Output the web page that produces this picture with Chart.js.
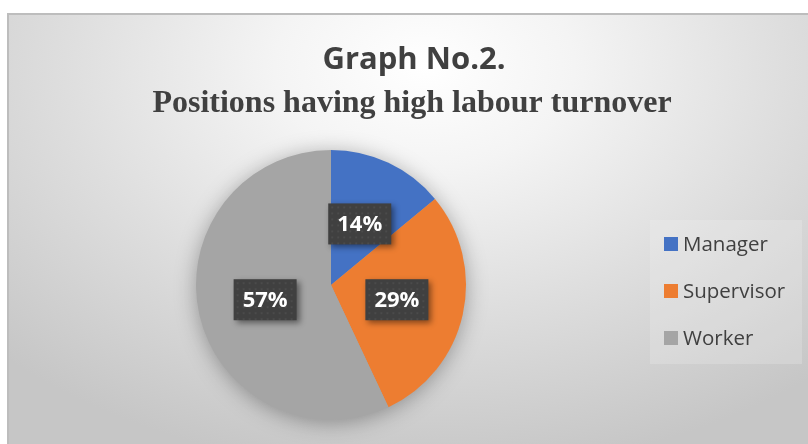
<!DOCTYPE html>
<html>
<head>
<meta charset="utf-8">
<script src="https://cdn.jsdelivr.net/npm/chart.js@4/dist/chart.umd.min.js"></script>
<style>
  html,body{margin:0;padding:0;background:#fff;width:808px;height:444px;overflow:hidden;}
  #panel{position:absolute;left:7px;top:13px;width:801px;height:431px;
    border-top:2px solid #bdbdbd;border-left:2px solid #bdbdbd;box-sizing:border-box;
    background:radial-gradient(ellipse 75% 95% at 52% 12%, #ffffff 0%, #f4f4f4 25%, #dedede 60%, #c6c6c6 100%);}
  canvas{position:absolute;left:0;top:0;}
</style>
</head>
<body>
<div id="panel"><canvas id="c" width="799" height="429"></canvas></div>
<script>
const categories = ["Manager", "Supervisor", "Worker"];
const values = [14, 29, 57];
const percentLabels = ["14%", "29%", "57%"];
const colors = ["#4472C4", "#ED7D31", "#A5A5A5"];
const titleText = "Graph No.2.";
const subtitleText = "Positions having high labour turnover";

const decor = {
  id: 'decor',
  beforeDatasetsDraw(chart) {
    const ctx = chart.ctx;
    const arc = chart.getDatasetMeta(0).data[0];
    ctx.save();
    ctx.shadowColor = 'rgba(0,0,0,0.35)';
    ctx.shadowBlur = 22;
    ctx.shadowOffsetY = 3;
    ctx.fillStyle = '#A5A5A5';
    ctx.beginPath();
    ctx.arc(arc.x, arc.y, arc.outerRadius - 1, 0, Math.PI * 2);
    ctx.fill();
    ctx.restore();
  },
  afterDraw(chart) {
    const ctx = chart.ctx;
    ctx.save();
    ctx.textAlign = 'center';
    ctx.textBaseline = 'middle';
    ctx.fillStyle = '#404040';
    ctx.font = 'bold 31px "Open Sans"';
    ctx.fillText(titleText, 405, 45);
    ctx.font = 'bold 32px "Liberation Serif"';
    ctx.fillText(subtitleText, 403, 89);

    const meta = chart.getDatasetMeta(0);
    meta.data.forEach((el, i) => {
      const p = el.tooltipPosition();
      const w = 63, h = 41;
      const x = p.x - w / 2, y = p.y - h / 2;
      ctx.save();
      ctx.shadowColor = 'rgba(0,0,0,0.45)';
      ctx.shadowBlur = 6;
      ctx.shadowOffsetX = 3;
      ctx.shadowOffsetY = 3;
      ctx.fillStyle = '#404040';
      ctx.fillRect(x, y, w, h);
      ctx.restore();
      ctx.fillStyle = 'rgba(255,255,255,0.06)';
      for (let yy = y + 3; yy < y + h; yy += 6) {
        for (let xx = x + 3; xx < x + w; xx += 6) {
          ctx.fillRect(xx, yy, 2, 2);
        }
      }
      ctx.fillStyle = '#ffffff';
      ctx.font = 'bold 22px "Open Sans"';
      ctx.fillText(percentLabels[i], p.x, p.y + 1);
    });

    const lx = 641, ly = 205, lw = 152, lh = 144;
    ctx.fillStyle = 'rgba(245,245,245,0.22)';
    ctx.fillRect(lx, ly, lw, lh);
    ctx.textAlign = 'left';
    ctx.font = '20.5px "Open Sans"';
    categories.forEach((name, i) => {
      const cy = 229 + i * 47;
      ctx.fillStyle = colors[i];
      ctx.fillRect(655, cy - 7, 14, 14);
      ctx.fillStyle = '#404040';
      ctx.fillText(name, 674, cy + 1);
    });
    ctx.restore();
  }
};

new Chart(document.getElementById('c'), {
  type: 'pie',
  data: {
    labels: categories,
    datasets: [{ data: values, backgroundColor: colors, borderWidth: 0 }]
  },
  options: {
    responsive: false,
    animation: false,
    layout: { padding: { left: 187, right: 342, top: 135, bottom: 24 } },
    plugins: { legend: { display: false }, tooltip: { enabled: false }, title: { display: false } }
  },
  plugins: [decor]
});
</script>
</body>
</html>
